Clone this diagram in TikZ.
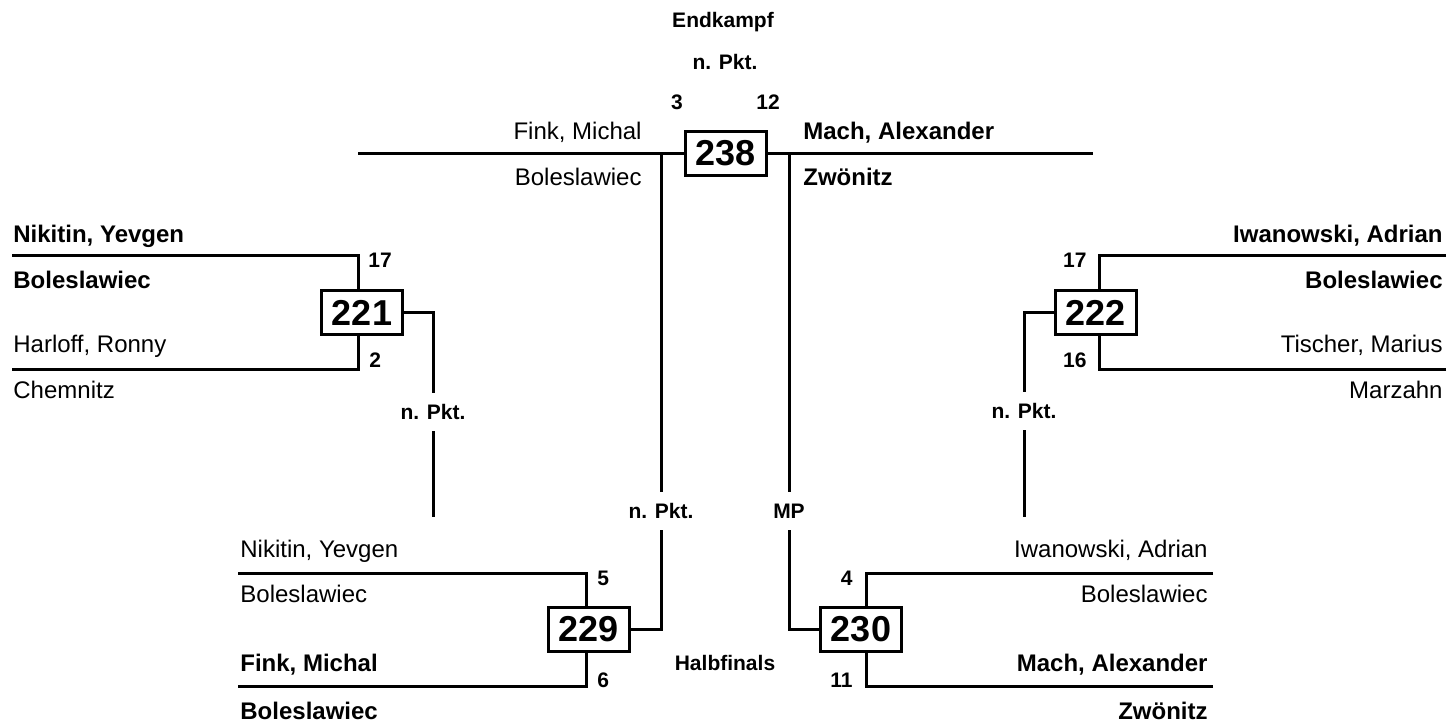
\documentclass[tikz,border=0pt]{standalone}
\usepackage{fontspec}
\setmainfont{Liberation Sans}
\usetikzlibrary{positioning}
\tikzset{
  kampf/.style={draw, line width=1.5pt, fill=white, inner sep=0pt,
    minimum width=40.5pt, minimum height=22pt,
    font=\fontsize{18}{18}\selectfont\bfseries},
  spieler/.style={inner sep=0pt, font=\fontsize{12}{14}\selectfont},
  sieger/.style={inner sep=0pt, font=\fontsize{12}{14}\selectfont\bfseries},
  wert/.style={inner sep=0pt, font=\fontsize{10.5}{12}\selectfont\bfseries},
  luecke/.style={wert, minimum height=19pt},
  linie/.style={line width=1.5pt}
}
\begin{document}
\begin{tikzpicture}[x=0.5pt,y=-0.5pt]
            \useasboundingbox (0,0) rectangle (1448,723);
            %Kampfnummern
            \node[kampf] (Box238) at (725.5,153.5) {238};
            \node[kampf] (Box221) at (362,312.5) {221};
            \node[kampf] (Box222) at (1095.5,312.5) {222};
            \node[kampf] (Box229) at (588.5,629.5) {229};
            \node[kampf] (Box230) at (861,629.5) {230};

            \coordinate (Top1) at (358,153.5);
            \coordinate (Top2) at (1093,153.5);
            \coordinate (Oben221) at (12,255);
            \coordinate (Unten221) at (12,369);
            \coordinate (Oben222) at (1446,255);
            \coordinate (Unten222) at (1446,369);
            \coordinate (Oben229) at (238,573.5);
            \coordinate (Unten229) at (238,686.5);
            \coordinate (Oben230) at (1213,573.5);
            \coordinate (Unten230) at (1213,686.5);
            \coordinate (Ende221) at (433,517);
            \coordinate (Ende222) at (1024,517);

            \draw[linie] (Top1) -- (Box238.west) (Box238.east) -- (Top2);
            \draw[linie] (Oben221) -| ([xshift=-2pt]Box221.north);
            \draw[linie] (Unten221) -| ([xshift=-2pt]Box221.south);
            \draw[linie] (Oben222) -| ([xshift=2pt]Box222.north);
            \draw[linie] (Unten222) -| ([xshift=2pt]Box222.south);
            \draw[linie] (Oben229) -| ([xshift=-1.25pt]Box229.north);
            \draw[linie] (Unten229) -| ([xshift=-1.25pt]Box229.south);
            \draw[linie] (Oben230) -| ([xshift=2.5pt]Box230.north);
            \draw[linie] (Unten230) -| ([xshift=2.5pt]Box230.south);

            %Weiterleitung
            \node[luecke] (Pkt221) at (433,412) {n. Pkt.};
            \node[luecke] (Pkt222) at (1024,411) {n. Pkt.};
            \node[luecke] (Pkt229) at (661,511) {n. Pkt.};
            \node[luecke] (Pkt230) at (789,511) {MP};
            \draw[linie] (Box221.east) -| (Pkt221.north);
            \draw[linie] (Pkt221.south) -- (Ende221);
            \draw[linie] (Box222.west) -| (Pkt222.north);
            \draw[linie] (Pkt222.south) -- (Ende222);
            \draw[linie] (Pkt229.north) -- (Pkt229.north |- Top1);
            \draw[linie] (Pkt229.south) |- (Box229.east);
            \draw[linie] (Pkt230.north) -- (Pkt230.north |- Top2);
            \draw[linie] (Pkt230.south) |- (Box230.west);

            %Namen
            \node[spieler, anchor=base east] (Name238a) at (642,139) {Fink, Michal};
            \node[spieler, anchor=base east] (Verein238a) at (642,185) {Boleslawiec};
            \node[sieger, anchor=base west] (Name238b) at (803,139) {Mach, Alexander};
            \node[sieger, anchor=base west] (Verein238b) at (803,185) {Zwönitz};

            \node[sieger, anchor=base west] (Name221a) at (13,242) {Nikitin, Yevgen};
            \node[sieger, anchor=base west] (Verein221a) at (13,288) {Boleslawiec};
            \node[spieler, anchor=base west] (Name221b) at (13,352) {Harloff, Ronny};
            \node[spieler, anchor=base west] (Verein221b) at (13,398) {Chemnitz};

            \node[sieger, anchor=base east] (Name222a) at (1443,242) {Iwanowski, Adrian};
            \node[sieger, anchor=base east] (Verein222a) at (1443,288) {Boleslawiec};
            \node[spieler, anchor=base east] (Name222b) at (1443,352) {Tischer, Marius};
            \node[spieler, anchor=base east] (Verein222b) at (1443,398) {Marzahn};

            \node[spieler, anchor=base west] (Name229a) at (240,557) {Nikitin, Yevgen};
            \node[spieler, anchor=base west] (Verein229a) at (240,602) {Boleslawiec};
            \node[sieger, anchor=base west] (Name229b) at (240,671) {Fink, Michal};
            \node[sieger, anchor=base west] (Verein229b) at (240,719) {Boleslawiec};

            \node[spieler, anchor=base east] (Name230a) at (1208,557) {Iwanowski, Adrian};
            \node[spieler, anchor=base east] (Verein230a) at (1208,602) {Boleslawiec};
            \node[sieger, anchor=base east] (Name230b) at (1208,671) {Mach, Alexander};
            \node[sieger, anchor=base east] (Verein230b) at (1208,719) {Zwönitz};

            %Punkte
            \node[wert] (Wert238a) at (677,102) {3};
            \node[wert] (Wert238b) at (768,102) {12};
            \node[wert, anchor=west] (Wert221a) at (368,260) {17};
            \node[wert, anchor=west] (Wert221b) at (369,360) {2};
            \node[wert, anchor=east] (Wert222a) at (1087,260) {17};
            \node[wert, anchor=east] (Wert222b) at (1087,360) {16};
            \node[wert, anchor=west] (Wert229a) at (597,578) {5};
            \node[wert, anchor=west] (Wert229b) at (597,680) {6};
            \node[wert, anchor=east] (Wert230a) at (853,578) {4};
            \node[wert, anchor=east] (Wert230b) at (853,680) {11};

            \node[wert] (Runde1) at (723,22) {Endkampf};
            \node[wert] (Runde1Art) at (725,62) {n. Pkt.};
            \node[wert] (Runde2) at (725,663) {Halbfinals};
\end{tikzpicture}
\end{document}
